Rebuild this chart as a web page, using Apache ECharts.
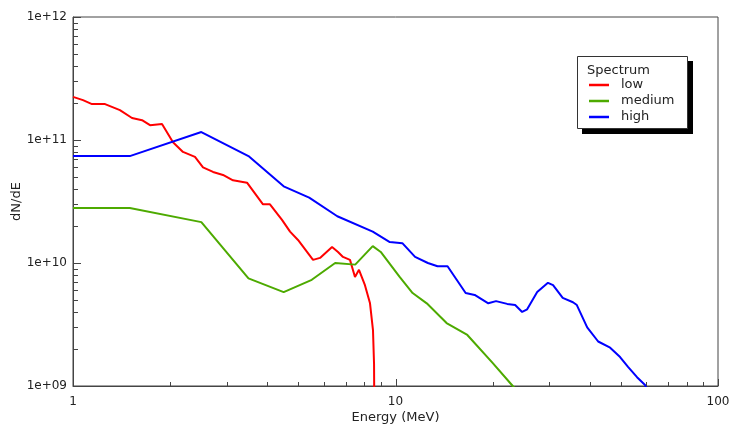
<!DOCTYPE html>
<html><head><meta charset="utf-8">
<script src="https://cdn.jsdelivr.net/npm/echarts@6/dist/echarts.min.js"></script>
<style>html,body{margin:0;padding:0;background:#fff}#c{width:732px;height:425px}</style>
</head><body><div id="c"></div>
<script>
const seriesNames = ['low', 'medium', 'high'];
const seriesColors = ['#ff0000', '#4daa00', '#0000ff'];

const lowEnergy = [1.0, 1.074, 1.145, 1.257, 1.398, 1.524, 1.637, 1.733, 1.888, 2.042, 2.193, 2.389, 2.53, 2.718, 2.918, 3.134, 3.464, 3.883, 4.081, 4.447, 4.71, 4.985, 5.55, 5.834, 6.357, 6.633, 6.874, 7.226, 7.488, 7.705, 8.04, 8.336, 8.515, 8.58, 8.6];
const lowFlux = [2.24e11, 2.11e11, 1.96e11, 1.96e11, 1.75e11, 1.51e11, 1.45e11, 1.32e11, 1.35e11, 9.6e10, 8.0e10, 7.3e10, 6.0e10, 5.5e10, 5.2e10, 4.7e10, 4.5e10, 3.0e10, 3.0e10, 2.24e10, 1.8e10, 1.54e10, 1.06e10, 1.1e10, 1.35e10, 1.23e10, 1.12e10, 1.06e10, 7.7e9, 8.8e9, 6.6e9, 4.7e9, 2.85e9, 1.5e9, 5e8];

const mediumEnergy = [1.0, 1.5, 2.5, 3.5, 4.5, 5.5, 6.5, 7.5, 8.5, 9.0, 10.3, 11.3, 12.5, 14.4, 16.7, 20.0, 23.1, 24.0];
const mediumFlux = [2.8e10, 2.8e10, 2.15e10, 7.5e9, 5.8e9, 7.3e9, 1.0e10, 9.7e9, 1.37e10, 1.23e10, 7.7e9, 5.7e9, 4.7e9, 3.25e9, 2.6e9, 1.54e9, 1.0e9, 9e8];

const highEnergy = [1.0, 1.5, 2.5, 3.5, 4.5, 5.4, 6.6, 8.5, 9.6, 10.5, 11.5, 12.6, 13.5, 14.5, 16.5, 17.6, 19.4, 20.5, 22.2, 23.5, 24.7, 25.6, 27.5, 29.7, 30.8, 33.0, 35.5, 36.5, 39.3, 42.5, 46.3, 49.7, 52.6, 56.1, 59.4, 62.0];
const highFlux = [7.4e10, 7.4e10, 1.16e11, 7.4e10, 4.2e10, 3.4e10, 2.4e10, 1.8e10, 1.48e10, 1.45e10, 1.12e10, 1.0e10, 9.4e9, 9.4e9, 5.7e9, 5.5e9, 4.7e9, 4.9e9, 4.65e9, 4.55e9, 4.0e9, 4.2e9, 5.8e9, 6.9e9, 6.6e9, 5.2e9, 4.8e9, 4.55e9, 3.0e9, 2.3e9, 2.05e9, 1.72e9, 1.43e9, 1.18e9, 1.02e9, 8e8];

const xMajorTicks = [1, 10, 100];
const xMinorTicks = [2, 3, 4, 5, 6, 7, 8, 9, 20, 30, 40, 50, 60, 70, 80, 90];
const yMajorTicks = [1e9, 1e10, 1e11, 1e12];
const yMinorTicks = [2e9, 3e9, 4e9, 5e9, 6e9, 7e9, 8e9, 9e9, 2e10, 3e10, 4e10, 5e10, 6e10, 7e10, 8e10, 9e10, 2e11, 3e11, 4e11, 5e11, 6e11, 7e11, 8e11, 9e11];

const xTitle = 'Energy (MeV)';
const yTitle = 'dN/dE';
const legendTitle = 'Spectrum';

function zip(a, b) { return a.map((v, i) => [v, b[i]]); }
const seriesData = [zip(lowEnergy, lowFlux), zip(mediumEnergy, mediumFlux), zip(highEnergy, highFlux)];

const FONT = 'DejaVu Sans';
const AXIS = '#444';
const TEXT = '#222';
const X_MIN = 1, Y_MIN = 1e9;

const legendGraphics = [
  {type: 'rect', z: 10, shape: {x: 582, y: 61, width: 111, height: 73}, style: {fill: '#000'}},
  {type: 'rect', z: 11, shape: {x: 577.5, y: 56.5, width: 110, height: 72}, style: {fill: '#fff', stroke: '#333', lineWidth: 1}},
  {type: 'text', z: 12, x: 587, y: 64, style: {text: legendTitle, font: '13px "DejaVu Sans"', fill: TEXT}}
];

const chart = echarts.init(document.getElementById('c'), null, {renderer: 'canvas'});
chart.setOption({
  animation: false,
  backgroundColor: '#fff',
  textStyle: {fontFamily: FONT},
  grid: {left: 73, right: 14, top: 17, bottom: 39, outerBoundsMode: 'none', containLabel: false,
    show: true, borderColor: AXIS, borderWidth: 1, backgroundColor: 'transparent'},
  xAxis: {
    type: 'log', logBase: 10, min: 1, max: 100, position: 'bottom',
    name: xTitle, nameLocation: 'middle', nameGap: 25, nameMoveOverlap: false,
    nameTextStyle: {fontFamily: FONT, fontSize: 13, color: TEXT},
    axisLine: {show: true, lineStyle: {color: AXIS, width: 1}},
    axisTick: {show: false},
    axisLabel: {fontFamily: FONT, fontSize: 12, color: TEXT, margin: 10, formatter: v => String(v)},
    splitLine: {show: false}, minorTick: {show: false}
  },
  yAxis: {
    type: 'log', logBase: 10, min: 1e9, max: 1e12, position: 'left',
    name: yTitle, nameLocation: 'middle', nameGap: 50, nameMoveOverlap: false,
    nameTextStyle: {fontFamily: FONT, fontSize: 13, color: TEXT},
    axisLine: {show: true, lineStyle: {color: AXIS, width: 1}},
    axisTick: {show: false},
    axisLabel: {fontFamily: FONT, fontSize: 12, color: TEXT, margin: 6,
      formatter: v => '1e+' + String(Math.round(Math.log10(v))).padStart(2, '0')},
    splitLine: {show: false}
  },
  legend: {
    orient: 'vertical', left: 589, top: 78, padding: 0, itemGap: 2, z: 20,
    icon: 'rect', itemWidth: 20, itemHeight: 2.5,
    textStyle: {fontFamily: FONT, fontSize: 13, color: TEXT, lineHeight: 14, padding: [0, 0, 0, 7]},
    data: seriesNames
  },
  graphic: {elements: legendGraphics},
  series: seriesNames.map((n, i) => ({
    name: n, type: 'line', data: seriesData[i], showSymbol: false, symbol: 'none',
    clip: true, lineStyle: {color: seriesColors[i], width: 2}, itemStyle: {color: seriesColors[i]}
  }))
});

// Axis ticks (inside), positioned through the chart's own log scales
function tickRect(value, len, isX) {
  const p = chart.convertToPixel({gridIndex: 0}, isX ? [value, Y_MIN] : [X_MIN, value]);
  const x = Math.round(p[0]), y = Math.round(p[1]);
  return {
    type: 'rect', z: 15, silent: true,
    shape: isX ? {x: x, y: y - len, width: 1, height: len} : {x: x, y: y, width: len, height: 1},
    style: {fill: AXIS}
  };
}
const tickGraphics = []
  .concat(xMajorTicks.map(v => tickRect(v, 7, true)))
  .concat(xMinorTicks.map(v => tickRect(v, 4, true)))
  .concat(yMajorTicks.map(v => tickRect(v, 8, false)))
  .concat(yMinorTicks.map(v => tickRect(v, 5, false)));
chart.setOption({graphic: {elements: legendGraphics.concat(tickGraphics)}});
</script></body></html>
